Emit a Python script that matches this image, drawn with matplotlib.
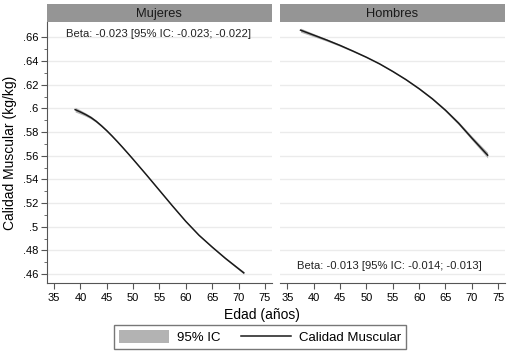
import numpy as np
import matplotlib
matplotlib.use('Agg')
import matplotlib.pyplot as plt
from matplotlib.patches import Patch
from matplotlib.lines import Line2D

plt.rcParams['font.family'] = ['Liberation Sans', 'DejaVu Sans']

# ── data ────────────────────────────────────────────────────────────────────
panels = ['Mujeres', 'Hombres']

age_muj = [39, 40, 41, 42, 43, 44, 45, 46, 47, 48, 49, 50, 52.5, 55, 57.5,
           60, 62.5, 65, 67.5, 70, 71]
cm_muj = [0.5990, 0.5970, 0.5948, 0.5923, 0.5891, 0.5853, 0.5812, 0.5767,
          0.5720, 0.5671, 0.5621, 0.5570, 0.5440, 0.5307, 0.5174,
          0.5045, 0.4928, 0.4828, 0.4733, 0.4645, 0.4610]
ci_muj = [0.0020, 0.0017, 0.0014, 0.0012, 0.0010, 0.0009, 0.0008, 0.0007,
          0.0006, 0.0006, 0.0005, 0.0005, 0.0005, 0.0005, 0.0005,
          0.0005, 0.0005, 0.0006, 0.0007, 0.0009, 0.0011]

age_hom = [37.5, 40, 42.5, 45, 47.5, 50, 52.5, 55, 57.5, 60, 62.5, 65, 67.5, 70, 73]
cm_hom = [0.6662, 0.6620, 0.6578, 0.6533, 0.6484, 0.6433, 0.6377, 0.6313,
          0.6244, 0.6167, 0.6082, 0.5985, 0.5875, 0.5750, 0.5605]
ci_hom = [0.0017, 0.0013, 0.0010, 0.0008, 0.0006, 0.0005, 0.0005, 0.0005,
          0.0006, 0.0007, 0.0008, 0.0010, 0.0013, 0.0017, 0.0024]

beta_text = ['Beta: -0.023 [95% IC: -0.023; -0.022]',
             'Beta: -0.013 [95% IC: -0.014; -0.013]']

x_ticks = [35, 40, 45, 50, 55, 60, 65, 70, 75]
y_ticks = [0.46, 0.48, 0.50, 0.52, 0.54, 0.56, 0.58, 0.60, 0.62, 0.64, 0.66]
y_ticklabels = ['.46', '.48', '.5', '.52', '.54', '.56', '.58', '.6', '.62', '.64', '.66']

# ── figure layout (pixel based) ─────────────────────────────────────────────
W, H = 511, 355
fig = plt.figure(figsize=(W / 100, H / 100), dpi=100, facecolor='white')

def frac(x0, y0, x1, y1):
    return [x0 / W, (H - y1) / H, (x1 - x0) / W, (y1 - y0) / H]

ax_boxes = [(46.7, 22, 271.7, 283), (280, 22, 505, 283)]
series = [(age_muj, cm_muj, ci_muj), (age_hom, cm_hom, ci_hom)]
txt_pos = [(0.497, 0.973, 'top'), (0.487, 0.065, 'center')]

band_col = '#b3b3b3'
spine_col = '#555555'

for k, (x0, y0, x1, y1) in enumerate(ax_boxes):
    ax = fig.add_axes(frac(x0, y0, x1, y1))
    age, cm, ci = (np.array(a) for a in series[k])
    ax.fill_between(age, cm - ci, cm + ci, color=band_col, lw=0, zorder=2)
    ax.plot(age, cm, color='#1a1a1a', lw=1.1, zorder=3)

    ax.set_xlim(33.6, 76.3)
    ax.set_ylim(0.4524, 0.6731)
    ax.set_xticks(x_ticks)
    ax.set_xticklabels([str(t) for t in x_ticks])
    ax.set_yticks(y_ticks)
    ax.grid(axis='y', color='#ebebeb', lw=1.0, zorder=0)
    ax.set_axisbelow(True)
    for s in ['top', 'right']:
        ax.spines[s].set_visible(False)
    ax.spines['bottom'].set_color(spine_col)
    ax.tick_params(axis='x', labelsize=8, length=4, color=spine_col, pad=3)
    if k == 0:
        ax.set_yticklabels(y_ticklabels)
        ax.set_yticks(np.arange(0.47, 0.66, 0.02), minor=True)
        ax.spines['left'].set_color(spine_col)
        ax.tick_params(axis='y', labelsize=8, length=4, color=spine_col, pad=2)
        ax.tick_params(axis='y', which='minor', length=2, color=spine_col)
        ax.set_ylabel('Calidad Muscular (kg/kg)', fontsize=10, labelpad=4)
    else:
        ax.spines['left'].set_visible(False)
        ax.tick_params(axis='y', left=False, labelleft=False)

    tx, ty, va = txt_pos[k]
    ax.text(tx, ty, beta_text[k], transform=ax.transAxes, ha='center', va=va,
            fontsize=8.1, color='#222222')

    # panel header strip
    sx = fig.add_axes(frac(x0, 4, x1, 21.5))
    sx.set_facecolor('#959595')
    sx.set_xticks([])
    sx.set_yticks([])
    for s in sx.spines.values():
        s.set_visible(False)
    sx.text(0.5, 0.45, panels[k], ha='center', va='center', fontsize=9.3,
            color='#1a1a1a', transform=sx.transAxes)

fig.text(262 / W, 1 - 315 / H, 'Edad (años)', ha='center', va='center', fontsize=10)

handles = [Patch(facecolor=band_col, edgecolor='none', label='95% IC'),
           Line2D([0], [0], color='#1a1a1a', lw=1.1, label='Calidad Muscular')]
leg = fig.legend(handles=handles, loc='center', bbox_to_anchor=(260 / W, 1 - 337 / H),
                 ncol=2, fontsize=9.5, frameon=True, fancybox=False,
                 handlelength=3.8, handleheight=1.1, handletextpad=0.6,
                 columnspacing=1.6, borderpad=0.35)
leg.get_frame().set_edgecolor(spine_col)
leg.get_frame().set_linewidth(1.0)

fig.savefig('out.png', dpi=100, facecolor='white')
